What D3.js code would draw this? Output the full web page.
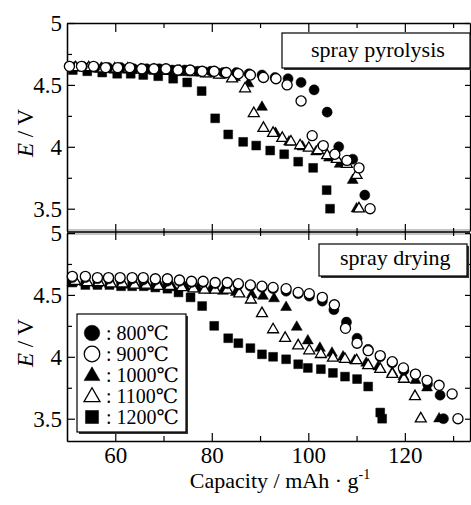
<!DOCTYPE html>
<html>
<head>
<meta charset="utf-8">
<style>
  body { margin: 0; background: #fff; }
  svg text { font-family: "Liberation Serif", "Noto Sans CJK JP", serif; fill: #000; }
</style>
<script src="https://d3js.org/d3.v7.min.js"></script>
</head>
<body>
<svg width="471" height="505"></svg>
<script>
// spray pyrolysis: [capacity mAh/g, E / V]
var pyro800 = [[50.5,4.65],[53.2,4.65],[55.8,4.64],[58.5,4.64],[61.1,4.64],[63.8,4.63],[66.5,4.63],[69.1,4.63],[71.8,4.62],[74.4,4.62],[77.1,4.61],[79.8,4.61],[82.4,4.60],[85.1,4.60],[87.7,4.59],[90.4,4.58],[93.1,4.56],[95.8,4.55],[98.5,4.52],[101.2,4.46],[103.9,4.28],[106.3,4.00],[109.2,3.90],[111.7,3.61]];
var pyro900 = [[50.5,4.65],[53.0,4.65],[55.5,4.65],[58.0,4.64],[60.5,4.64],[63.0,4.64],[65.5,4.63],[68.0,4.63],[70.5,4.63],[73.0,4.62],[75.5,4.62],[78.0,4.61],[80.5,4.61],[83.0,4.60],[85.5,4.59],[88.0,4.58],[90.7,4.56],[93.3,4.55],[95.6,4.50],[98.5,4.37],[100.8,4.09],[103.1,4.01],[105.5,3.94],[108.0,3.89],[110.5,3.83],[112.8,3.50]];
var pyro1000 = [[51.5,4.64],[54.2,4.63],[57.0,4.63],[59.8,4.62],[62.6,4.62],[65.4,4.62],[68.1,4.61],[70.9,4.61],[73.7,4.60],[76.5,4.60],[79.3,4.59],[82.0,4.58],[84.8,4.56],[87.6,4.51],[90.4,4.32],[93.2,4.11],[96.0,4.04],[98.8,4.00],[101.6,3.96],[104.3,3.91],[106.5,3.86],[109.2,3.73],[110.0,3.50]];
var pyro1100 = [[51.8,4.64],[54.5,4.64],[57.2,4.63],[59.9,4.63],[62.6,4.63],[65.3,4.62],[68.0,4.62],[70.7,4.61],[73.4,4.61],[76.1,4.60],[78.8,4.59],[81.5,4.58],[84.2,4.55],[86.9,4.47],[88.7,4.27],[90.7,4.15],[92.7,4.11],[94.6,4.07],[96.4,4.04],[98.3,4.01],[100.1,3.99],[102.0,3.97],[103.9,3.93],[105.9,3.90],[108.0,3.86],[110.0,3.77],[110.5,3.50]];
var pyro1200 = [[51.2,4.62],[54.2,4.61],[57.3,4.60],[60.4,4.59],[63.2,4.59],[65.8,4.58],[68.9,4.57],[72.0,4.55],[74.9,4.52],[77.9,4.45],[80.7,4.23],[83.4,4.10],[86.5,4.04],[89.2,4.01],[92.1,3.97],[95.0,3.94],[97.9,3.88],[101.0,3.83],[103.8,3.65],[104.5,3.50]];

// spray drying
var dry800 = [[51.1,4.64],[53.8,4.64],[56.3,4.63],[58.6,4.63],[61.0,4.63],[63.5,4.63],[65.8,4.62],[68.3,4.62],[70.8,4.61],[73.3,4.61],[75.8,4.60],[78.2,4.60],[80.7,4.59],[83.2,4.59],[85.5,4.58],[88.0,4.57],[90.4,4.56],[92.7,4.55],[95.4,4.53],[97.9,4.51],[100.2,4.49],[102.9,4.45],[105.3,4.38],[107.9,4.28],[110.1,4.15],[112.4,4.06],[114.9,4.00],[117.4,3.95],[119.8,3.89],[122.2,3.86],[124.7,3.78],[127.3,3.69],[128.0,3.50]];
var dry900 = [[51.1,4.65],[53.8,4.65],[56.3,4.64],[58.6,4.64],[61.0,4.64],[63.5,4.64],[65.8,4.64],[68.3,4.63],[70.8,4.63],[73.3,4.62],[75.8,4.61],[78.2,4.61],[80.7,4.60],[83.2,4.60],[85.5,4.59],[88.0,4.58],[90.4,4.57],[92.7,4.56],[95.4,4.55],[97.9,4.52],[100.2,4.51],[102.9,4.48],[105.4,4.42],[107.7,4.23],[110.1,4.11],[112.4,4.05],[114.9,4.01],[117.4,3.96],[119.7,3.91],[122.2,3.86],[124.6,3.81],[127.1,3.77],[129.8,3.70],[131.0,3.50]];
var dry1000 = [[51.1,4.60],[53.7,4.60],[56.3,4.59],[58.9,4.59],[61.5,4.58],[64.1,4.58],[66.7,4.57],[69.3,4.57],[71.9,4.56],[74.5,4.56],[77.1,4.55],[79.7,4.54],[82.3,4.53],[85.0,4.52],[88.3,4.50],[90.6,4.49],[92.9,4.47],[95.4,4.40],[97.6,4.24],[99.9,4.13],[102.4,4.07],[104.9,4.03],[107.2,4.00],[109.6,3.97],[112.0,3.95],[114.5,3.92],[117.4,3.87],[119.7,3.84],[122.2,3.81],[124.6,3.75],[127.1,3.50]];
var dry1100 = [[51.7,4.61],[54.2,4.60],[56.6,4.60],[59.1,4.59],[61.5,4.59],[64.0,4.58],[66.4,4.58],[68.9,4.57],[71.3,4.57],[73.8,4.56],[76.2,4.55],[78.5,4.54],[80.7,4.54],[83.2,4.54],[85.7,4.51],[88.1,4.46],[90.4,4.35],[92.7,4.22],[95.2,4.15],[97.9,4.09],[100.2,4.05],[102.6,4.02],[105.1,3.99],[107.6,3.98],[110.0,3.97],[112.4,3.93],[114.9,3.90],[117.4,3.86],[119.8,3.82],[122.1,3.68],[123.3,3.50]];
var dry1200 = [[51.1,4.60],[53.8,4.58],[56.3,4.58],[58.8,4.58],[61.2,4.57],[63.5,4.57],[65.9,4.57],[68.3,4.56],[70.8,4.55],[73.1,4.52],[75.6,4.48],[78.0,4.41],[80.5,4.25],[83.4,4.15],[85.5,4.11],[88.0,4.07],[90.4,4.02],[92.7,4.00],[95.4,3.98],[97.9,3.94],[99.9,3.91],[102.6,3.90],[105.1,3.87],[107.6,3.84],[110.1,3.82],[112.4,3.76],[114.9,3.55],[115.3,3.50]];

var tempLabels = ["800℃", "900℃", "1000℃", "1100℃", "1200℃"];
var xTicks = [60, 80, 100, 120], xMinor = [70, 90, 110, 130];
var yTicks = [5, 4.5, 4, 3.5], yMinor = [4.75, 4.25, 3.75];

// marker per temperature: symbol type, filled?
var markers = [
  {type: d3.symbolCircle, fill: true, size: 80},
  {type: d3.symbolCircle, fill: false, size: 80},
  {type: d3.symbolTriangle, fill: true, size: 52},
  {type: d3.symbolTriangle, fill: false, size: 52},
  {type: d3.symbolSquare, fill: true, size: 78}
];
var drawOrder = [4, 2, 3, 0, 1];
var serif = "'Liberation Serif', 'Times New Roman', serif";

var svg = d3.select("svg");
var left = 67, right = 470;
var x = d3.scaleLinear().domain([50, 133.5]).range([left, right]);

var panels = [
  {label: "spray pyrolysis", top: 23, bottom: 231,
   y: d3.scaleLinear().domain([3.32, 5]).range([231, 23]),
   series: [pyro800, pyro900, pyro1000, pyro1100, pyro1200],
   box: [282, 33, 188, 35], textX: 311, textY: 57},
  {label: "spray drying", top: 233, bottom: 441,
   y: d3.scaleLinear().domain([3.32, 5]).range([441, 233]),
   series: [dry800, dry900, dry1000, dry1100, dry1200],
   box: [319, 244, 148, 32], textX: 340, textY: 265}
];

// gray seam between the two panels
svg.append("rect").attr("x", left).attr("y", 229).attr("width", right - left).attr("height", 6).attr("fill", "#c4c4c4");

panels.forEach(function(p, pi) {
  var g = svg.append("g");
  var y = p.y;

  function styleAxis(sel) {
    sel.attr("font-family", serif);
    sel.select(".domain").attr("stroke", "#000").attr("stroke-width", 1.3);
    sel.selectAll(".tick line").attr("stroke", "#000").attr("stroke-width", 1.2);
    sel.selectAll("text").attr("font-size", 23).style("font-family", serif);
  }
  function hideDomain(sel) { sel.select(".domain").attr("stroke", "none"); }

  // left axis with labels
  g.append("g").attr("transform", "translate(" + left + ",0)")
    .call(d3.axisLeft(y).tickValues(yTicks).tickSize(-8).tickSizeOuter(0).tickPadding(5)
      .tickFormat(d3.format("")))
    .call(styleAxis);
  g.append("g").attr("transform", "translate(" + left + ",0)")
    .call(d3.axisLeft(y).tickValues(yMinor).tickSize(-5).tickSizeOuter(0).tickFormat(""))
    .call(styleAxis);
  // right axis
  g.append("g").attr("transform", "translate(" + right + ",0)")
    .call(d3.axisRight(y).tickValues(yTicks.concat(yMinor)).tickSize(-5).tickSizeOuter(0).tickFormat(""))
    .call(styleAxis);

  // top axis (inward ticks)
  var topG = g.append("g").attr("transform", "translate(0," + p.top + ")")
    .call(d3.axisTop(x).tickValues(xTicks).tickSize(pi === 0 ? -9 : 9).tickSizeOuter(0).tickFormat(""))
    .call(styleAxis);
  g.append("g").attr("transform", "translate(0," + p.top + ")")
    .call(d3.axisTop(x).tickValues(xMinor).tickSize(pi === 0 ? -5 : 5).tickSizeOuter(0).tickFormat(""))
    .call(styleAxis).call(hideDomain);
  if (pi === 1) topG.call(hideDomain);

  // bottom axis
  var bMajor = d3.axisBottom(x).tickValues(xTicks).tickSize(pi === 0 ? 9 : -8).tickSizeOuter(0).tickPadding(6);
  bMajor.tickFormat(pi === 1 ? d3.format("") : "");
  var botG = g.append("g").attr("transform", "translate(0," + p.bottom + ")")
    .call(bMajor).call(styleAxis);
  g.append("g").attr("transform", "translate(0," + p.bottom + ")")
    .call(d3.axisBottom(x).tickValues(xMinor).tickSize(pi === 0 ? 5 : -5).tickSizeOuter(0).tickFormat(""))
    .call(styleAxis).call(hideDomain);
  if (pi === 0) botG.call(hideDomain);

  // axis title
  var cy = (p.top + p.bottom) / 2 + 6;
  var t = g.append("text").attr("transform", "translate(33," + cy + ") rotate(-90)")
    .attr("text-anchor", "middle").attr("font-size", 23);
  t.append("tspan").attr("font-style", "italic").text("E");
  t.append("tspan").text(" / V");

  // label box with drop shadow
  var b = p.box;
  g.append("rect").attr("x", b[0] + 2).attr("y", b[1] + 2).attr("width", b[2]).attr("height", b[3]).attr("fill", "#333");
  g.append("rect").attr("x", b[0]).attr("y", b[1]).attr("width", b[2]).attr("height", b[3])
    .attr("fill", "#fff").attr("stroke", "#000").attr("stroke-width", 1.2);
  g.append("text").attr("x", p.textX).attr("y", p.textY).attr("font-size", 22).text(p.label);

  // data markers
  drawOrder.forEach(function(si) {
    var m = markers[si];
    g.append("g").selectAll("path")
      .data(p.series[si])
      .enter().append("path")
        .attr("transform", function(d) { return "translate(" + x(d[0]) + "," + y(d[1]) + ")"; })
        .attr("d", d3.symbol().type(m.type).size(m.size))
        .attr("fill", m.fill ? "#000" : "#fff")
        .attr("stroke", "#000")
        .attr("stroke-width", m.fill ? 0.5 : 1.3);
  });
});

// black line in the middle of the seam
svg.append("line").attr("x1", left).attr("x2", right).attr("y1", 232).attr("y2", 232)
  .attr("stroke", "#000").attr("stroke-width", 1.6);

// legend
var leg = svg.append("g");
leg.append("rect").attr("x", 79).attr("y", 316).attr("width", 109).attr("height", 118).attr("fill", "#333");
leg.append("rect").attr("x", 77).attr("y", 314).attr("width", 109).attr("height", 118)
  .attr("fill", "#fff").attr("stroke", "#000").attr("stroke-width", 1.2);
var legSizes = [190, 190, 110, 110, 170];
tempLabels.forEach(function(lab, i) {
  var m = markers[i];
  var ry = 333 + i * 21;
  leg.append("path")
    .attr("transform", "translate(92," + (ry + (m.type === d3.symbolTriangle ? 1 : 0)) + ")")
    .attr("d", d3.symbol().type(m.type).size(legSizes[i]))
    .attr("fill", m.fill ? "#000" : "#fff")
    .attr("stroke", "#000").attr("stroke-width", m.fill ? 0.5 : 1.3);
  var lt = leg.append("text").attr("x", 106).attr("y", ry + 7).attr("font-size", 20);
  lt.append("tspan").text(": " + lab.replace("℃", ""));
  lt.append("tspan").attr("font-family", "Liberation Serif, DejaVu Serif, serif").text("℃");
});

// x axis title
var xt = svg.append("text").attr("x", 280).attr("y", 488).attr("text-anchor", "middle").attr("font-size", 22);
xt.append("tspan").text("Capacity / mAh \u00b7 g");
xt.append("tspan").attr("dy", -9).attr("font-size", 14).text("-1");
</script>
</body>
</html>
